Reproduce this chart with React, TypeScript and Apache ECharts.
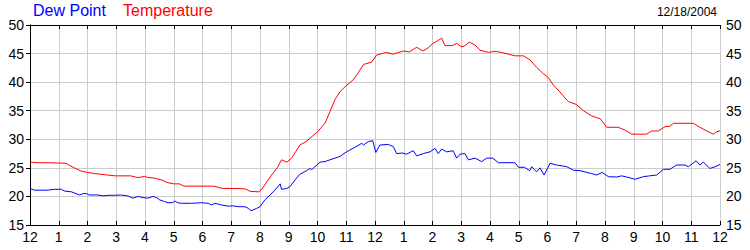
import React, { useEffect, useRef } from "react";
import * as echarts from "echarts";

const FONT = "'Liberation Sans', Arial, sans-serif";

const hourTicks = [0, 1, 2, 3, 4, 5, 6, 7, 8, 9, 10, 11, 12, 13, 14, 15, 16, 17, 18, 19, 20, 21, 22, 23, 24];
const hourLabels = ["12", "1", "2", "3", "4", "5", "6", "7", "8", "9", "10", "11", "12", "1", "2", "3", "4", "5", "6", "7", "8", "9", "10", "11", "12"];
const chartDate = "12/18/2004";
const seriesNames = ["Dew Point", "Temperature"];

const tempHours = [
  0, 0.3, 0.6, 1.0, 1.25, 1.5, 1.77, 2.0, 2.25, 2.6, 2.96, 3.5, 3.75, 3.99, 4.1, 4.34, 4.57, 4.8, 5.0, 5.2,
  5.35, 6.0, 6.4, 6.7, 7.2, 7.5, 7.65, 7.95, 8.04, 8.4, 8.6, 8.75, 8.93, 9.1, 9.39, 9.6, 9.74, 10.0, 10.26, 10.43,
  10.6, 10.78, 10.96, 11.24, 11.4, 11.6, 11.88, 12.06, 12.4, 12.63, 12.98, 13.2, 13.45, 13.67, 13.85, 14.02, 14.2, 14.32, 14.43, 14.7,
  14.84, 15.0, 15.1, 15.28, 15.48, 15.65, 15.94, 16.17, 16.4, 16.64, 16.87, 17.16, 17.39, 17.62, 17.85, 18.03, 18.2, 18.43, 18.72, 19.0,
  19.25, 19.53, 19.7, 19.83, 20.06, 20.46, 20.7, 20.93, 21.45, 21.62, 21.85, 22.09, 22.26, 22.38, 23.07, 23.3, 23.54, 23.77, 23.88, 24,
];
const tempValues = [
  26.0, 25.9, 25.9, 25.85, 25.8, 25.1, 24.45, 24.2, 24.0, 23.8, 23.6, 23.6, 23.3, 23.5, 23.3, 23.2, 22.9, 22.4, 22.2, 22.2,
  21.8, 21.8, 21.8, 21.4, 21.4, 21.3, 20.9, 20.8, 21.1, 23.75, 25.0, 26.4, 26.0, 26.7, 29.0, 29.6, 30.2, 31.3, 32.8, 34.8,
  36.9, 38.3, 39.2, 40.4, 41.5, 43.1, 43.5, 44.75, 45.2, 44.9, 45.45, 45.3, 46.1, 45.45, 46.0, 46.8, 47.3, 47.7, 46.4, 46.4,
  46.8, 46.2, 46.3, 47.0, 46.5, 45.6, 45.2, 45.4, 45.2, 44.9, 44.6, 44.6, 43.9, 42.6, 41.5, 40.8, 39.5, 38.3, 36.6, 36.1,
  35.0, 34.1, 33.8, 33.6, 32.1, 32.1, 31.6, 30.9, 30.9, 31.45, 31.45, 32.2, 32.3, 32.8, 32.8, 32.1, 31.45, 30.9, 31.3, 31.5,
];

const dewHours = [
  0, 0.16, 0.63, 0.86, 1.09, 1.2, 1.44, 1.73, 1.85, 1.96, 2.07, 2.36, 2.54, 2.75, 2.97, 3.15, 3.4, 3.58, 3.76, 3.93,
  4.1, 4.28, 4.4, 4.51, 4.68, 4.8, 4.97, 5.03, 5.14, 5.27, 5.62, 5.97, 6.2, 6.32, 6.43, 6.67, 6.9, 7.07, 7.25, 7.48,
  7.6, 7.69, 7.88, 8.0, 8.17, 8.35, 8.52, 8.7, 8.75, 8.93, 9.04, 9.22, 9.39, 9.62, 9.74, 9.8, 9.91, 10.09, 10.26, 10.43,
  10.78, 11.01, 11.3, 11.54, 11.6, 11.77, 11.92, 12.03, 12.17, 12.46, 12.64, 12.75, 12.93, 13.1, 13.33, 13.45, 13.68, 13.91, 14.09, 14.2,
  14.32, 14.49, 14.72, 14.84, 14.96, 15.13, 15.25, 15.48, 15.71, 15.88, 16.1, 16.29, 16.58, 16.87, 16.99, 17.2, 17.38, 17.45, 17.62, 17.74,
  17.88, 18.09, 18.32, 18.67, 18.9, 19.13, 19.3, 19.53, 19.71, 19.9, 20.12, 20.41, 20.58, 20.75, 21.04, 21.33, 21.55, 21.8, 22.03, 22.26,
  22.49, 22.78, 22.9, 23.17, 23.3, 23.42, 23.65, 23.83, 24,
];
const dewValues = [
  21.4, 21.1, 21.1, 21.25, 21.25, 20.95, 20.8, 20.25, 20.5, 20.5, 20.25, 20.25, 20.1, 20.2, 20.2, 20.25, 20.1, 19.7, 20.0, 19.8,
  19.7, 20.0, 19.8, 19.4, 19.1, 18.9, 18.9, 19.2, 18.9, 18.8, 18.8, 18.9, 18.8, 18.5, 18.8, 18.5, 18.3, 18.35, 18.2, 18.2,
  17.9, 17.5, 17.9, 18.2, 19.4, 20.25, 21.1, 22.2, 21.25, 21.4, 21.7, 22.9, 23.9, 24.5, 24.9, 24.7, 25.2, 26.0, 26.1, 26.4,
  27.0, 27.8, 28.6, 29.3, 29.0, 29.6, 29.75, 27.7, 29.0, 29.1, 28.7, 27.5, 27.6, 27.4, 28.0, 27.1, 27.5, 27.8, 28.4, 27.5,
  28.3, 27.8, 28.0, 26.7, 27.4, 27.5, 26.4, 26.7, 26.1, 26.7, 26.7, 25.9, 25.9, 25.9, 25.1, 25.1, 24.5, 25.2, 24.3, 25.0,
  23.75, 25.8, 25.5, 25.2, 24.6, 24.5, 24.3, 24.0, 23.75, 24.2, 23.45, 23.4, 23.6, 23.4, 23.0, 23.45, 23.6, 23.75, 24.75, 24.75,
  25.5, 25.5, 25.2, 26.25, 25.5, 26.0, 24.9, 25.2, 25.6,
];

const yMin = 15;
const yMax = 50;
const yStep = 5;

export default function App() {
  const ref = useRef<HTMLDivElement>(null);

  useEffect(() => {
    if (!ref.current) return;
    const chart = echarts.init(ref.current, undefined, { renderer: "svg" });
    const labelFor = (v: number) => {
      const i = hourTicks.indexOf(Math.round(v));
      return i >= 0 ? hourLabels[i] : "";
    };
    const axisLine = { show: true, lineStyle: { color: "#000", width: 1 } };
    const split = { show: true, lineStyle: { color: "#cccccc", width: 1 } };
    const labelStyle = { color: "#000", fontFamily: FONT, fontSize: 14 };
    chart.setOption({
      animation: false,
      backgroundColor: "#fff",
      grid: { left: 30, right: 30, top: 25, bottom: 25, containLabel: false },
      graphic: [
        {
          type: "text",
          left: 33,
          top: 2,
          style: { text: seriesNames[0], font: `16px ${FONT}`, fill: "#0000ff" },
        },
        {
          type: "text",
          left: 123,
          top: 2,
          style: { text: seriesNames[1], font: `16px ${FONT}`, fill: "#ff0000" },
        },
        {
          type: "text",
          right: 33,
          top: 6,
          style: { text: chartDate, font: `12px ${FONT}`, fill: "#000" },
        },
      ],
      xAxis: [
        {
          type: "value",
          position: "bottom",
          min: 0,
          max: 24,
          interval: 1,
          axisLine,
          axisTick: { show: true, inside: true, length: 4, lineStyle: { color: "#000" } },
          splitLine: split,
          axisLabel: { ...labelStyle, margin: 5, formatter: labelFor, showMinLabel: true, showMaxLabel: true },
        },
        {
          type: "value",
          position: "top",
          min: 0,
          max: 24,
          interval: 1,
          axisLine,
          axisTick: { show: true, inside: true, length: 4, lineStyle: { color: "#000" } },
          splitLine: { show: false },
          axisLabel: { show: false },
        },
      ],
      yAxis: [
        {
          type: "value",
          position: "left",
          min: yMin,
          max: yMax,
          interval: yStep,
          axisLine,
          axisTick: { show: true, inside: false, length: 3, lineStyle: { color: "#000" } },
          splitLine: split,
          axisLabel: { ...labelStyle, margin: 6 },
        },
        {
          type: "value",
          position: "right",
          min: yMin,
          max: yMax,
          interval: yStep,
          axisLine,
          axisTick: { show: true, inside: true, length: 4, lineStyle: { color: "#000" } },
          splitLine: { show: false },
          axisLabel: { ...labelStyle, margin: 6 },
        },
      ],
      series: [
        {
          name: seriesNames[0],
          type: "line",
          xAxisIndex: 0,
          yAxisIndex: 0,
          data: dewHours.map((h, i) => [h, dewValues[i]]),
          showSymbol: false,
          symbol: "none",
          lineStyle: { color: "#0000ff", width: 1 },
          itemStyle: { color: "#0000ff" },
          z: 3,
        },
        {
          name: seriesNames[1],
          type: "line",
          xAxisIndex: 0,
          yAxisIndex: 0,
          data: tempHours.map((h, i) => [h, tempValues[i]]),
          showSymbol: false,
          symbol: "none",
          lineStyle: { color: "#ff0000", width: 1 },
          itemStyle: { color: "#ff0000" },
          z: 3,
        },
      ],
    });
    return () => chart.dispose();
  }, []);

  return (
    <div
      ref={ref}
      style={{ position: "fixed", left: 0, top: 0, width: 750, height: 250, background: "#fff" }}
    />
  );
}
